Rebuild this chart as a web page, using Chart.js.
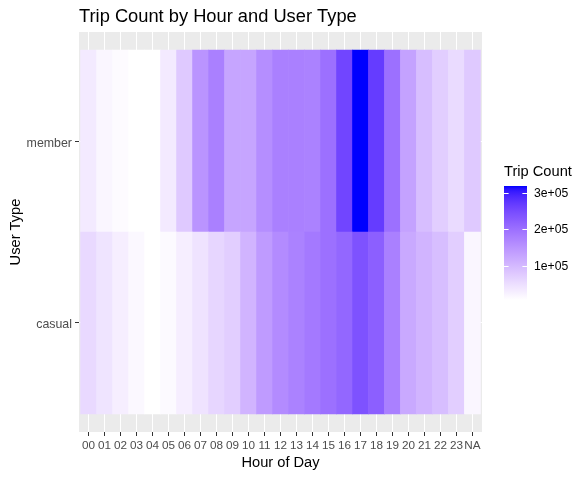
<!DOCTYPE html>
<html>
<head>
<meta charset="utf-8">
<style>html,body{margin:0;padding:0;background:#fff}canvas{display:block}</style>
<script src="https://cdn.jsdelivr.net/npm/chart.js@4"></script>
</head>
<body>
<canvas id="c" width="587" height="477" style="width:587px;height:477px"></canvas>
<script>
const hours = ["00","01","02","03","04","05","06","07","08","09","10","11","12","13","14","15","16","17","18","19","20","21","22","23","NA"];
const userTypes = ["casual","member"];
const memberTrips = [35000,19000,12000,7500,7000,35000,79000,150000,178000,128000,128000,159000,178000,178000,175000,200000,256000,318000,268000,200000,131000,94000,72000,54000,79000];
const casualTrips = [57000,43000,29000,16000,7000,13000,29000,44000,61000,72000,107000,141000,163000,175000,187000,200000,212000,240000,222000,178000,122000,107000,94000,72000,19000];
const legendTicks = [100000,200000,300000];
const legendLabels = ["1e+05","2e+05","3e+05"];
const fillMin = 7000, fillMax = 318000;

function fillColor(v){
  const t = Math.max(0, Math.min(1, (v - fillMin) / (fillMax - fillMin)));
  const L = 100 - 67.7 * t, a = 79.19 * t, b = -107.86 * t;
  const fy = (L + 16) / 116, fx = fy + a / 500, fz = fy - b / 200;
  const inv = f => f > 6 / 29 ? f * f * f : 3 * (6 / 29) * (6 / 29) * (f - 4 / 29);
  const X = 0.95047 * inv(fx), Y = inv(fy), Z = 1.08883 * inv(fz);
  const lin = [
    3.2406 * X - 1.5372 * Y - 0.4986 * Z,
    -0.9689 * X + 1.8758 * Y + 0.0415 * Z,
    0.0557 * X - 0.2040 * Y + 1.0570 * Z
  ];
  const ch = lin.map(c => {
    c = Math.max(0, Math.min(1, c));
    const s = c <= 0.0031308 ? 12.92 * c : 1.055 * Math.pow(c, 1 / 2.4) - 0.055;
    return Math.round(s * 255);
  });
  return `rgb(${ch[0]},${ch[1]},${ch[2]})`;
}

const FONT = '"Liberation Sans", Arial, sans-serif';

const panelAndLegend = {
  id: 'panelAndLegend',
  beforeDraw(chart){
    const {ctx, chartArea: A} = chart;
    ctx.save();
    ctx.fillStyle = '#EBEBEB';
    ctx.fillRect(A.left, A.top, A.right - A.left, A.bottom - A.top);
    ctx.restore();
  },
  afterDraw(chart){
    const ctx = chart.ctx;
    const L = 504, T = 186, W = 23, H = 114;
    const yOf = v => T + H - (v - fillMin) / (fillMax - fillMin) * H;
    ctx.save();
    const g = ctx.createLinearGradient(0, T + H, 0, T);
    for (let i = 0; i <= 40; i++) {
      g.addColorStop(i / 40, fillColor(fillMin + (fillMax - fillMin) * i / 40));
    }
    ctx.fillStyle = g;
    ctx.fillRect(L, T, W, H);
    ctx.strokeStyle = '#fff';
    ctx.lineWidth = 1;
    ctx.fillStyle = '#000';
    ctx.font = '12.2px ' + FONT;
    ctx.textAlign = 'left';
    ctx.textBaseline = 'middle';
    legendTicks.forEach((v, i) => {
      const y = Math.round(yOf(v)) + 0.5;
      ctx.beginPath();
      ctx.moveTo(L, y); ctx.lineTo(L + 4.6, y);
      ctx.moveTo(L + W - 4.6, y); ctx.lineTo(L + W, y);
      ctx.stroke();
      ctx.fillText(legendLabels[i], 534, y);
    });
    ctx.font = '14.67px ' + FONT;
    ctx.fillText('Trip Count', 504, 172);
    ctx.restore();
  }
};

const toPoints = (arr, lo) => arr.map((v, i) => ({x: i, y: [lo, lo + 1], v}));

new Chart(document.getElementById('c'), {
  type: 'bar',
  plugins: [panelAndLegend],
  data: {
    datasets: [
      {label: 'casual', data: toPoints(casualTrips, 0)},
      {label: 'member', data: toPoints(memberTrips, 1)}
    ].map(d => Object.assign(d, {
      grouped: false,
      barPercentage: 1,
      categoryPercentage: 1,
      borderWidth: 0,
      backgroundColor: c => c.raw ? fillColor(c.raw.v) : '#fff'
    }))
  },
  options: {
    responsive: false,
    animation: false,
    devicePixelRatio: 1,
    layout: {padding: {top: 0, right: 105, bottom: 0, left: 0}},
    plugins: {
      legend: {display: false},
      tooltip: {enabled: false},
      title: {
        display: true,
        text: 'Trip Count by Hour and User Type',
        align: 'start',
        fullSize: false,
        color: '#000',
        font: {family: FONT, size: 18.3, weight: 'normal', lineHeight: 1},
        padding: {top: 8, bottom: 5.7}
      }
    },
    scales: {
      x: {
        type: 'linear',
        offset: false,
        min: -0.6,
        max: 24.6,
        afterBuildTicks: s => { s.ticks = hours.map((_, i) => ({value: i})); },
        afterFit: s => { s.height = 45; },
        grid: {offset: false, color: '#fff', lineWidth: 1, tickColor: '#333', tickLength: 4, drawTicks: true},
        border: {display: false},
        ticks: {
          autoSkip: false, maxRotation: 0, minRotation: 0, padding: 3, color: '#4D4D4D',
          font: {family: FONT, size: 11.73},
          callback: (v, i) => hours[i]
        },
        title: {
          display: true, text: 'Hour of Day', color: '#000',
          font: {family: FONT, size: 14.67, lineHeight: 1},
          padding: {top: 0, bottom: 7}
        }
      },
      y: {
        type: 'linear',
        min: -0.1,
        max: 2.1,
        afterBuildTicks: s => { s.ticks = userTypes.map((_, i) => ({value: i + 0.5})); },
        afterFit: s => { s.width = 79; },
        grid: {color: '#fff', lineWidth: 1, tickColor: '#333', tickLength: 4, drawTicks: true},
        border: {display: false},
        ticks: {
          autoSkip: false, padding: 3, labelOffset: 2, color: '#4D4D4D',
          font: {family: FONT, size: 12.4},
          callback: (v, i) => userTypes[i]
        },
        title: {
          display: true, text: 'User Type', color: '#000',
          font: {family: FONT, size: 14.67, lineHeight: 1},
          padding: {top: 9, bottom: 0}
        }
      }
    }
  }
});
</script>
</body>
</html>
